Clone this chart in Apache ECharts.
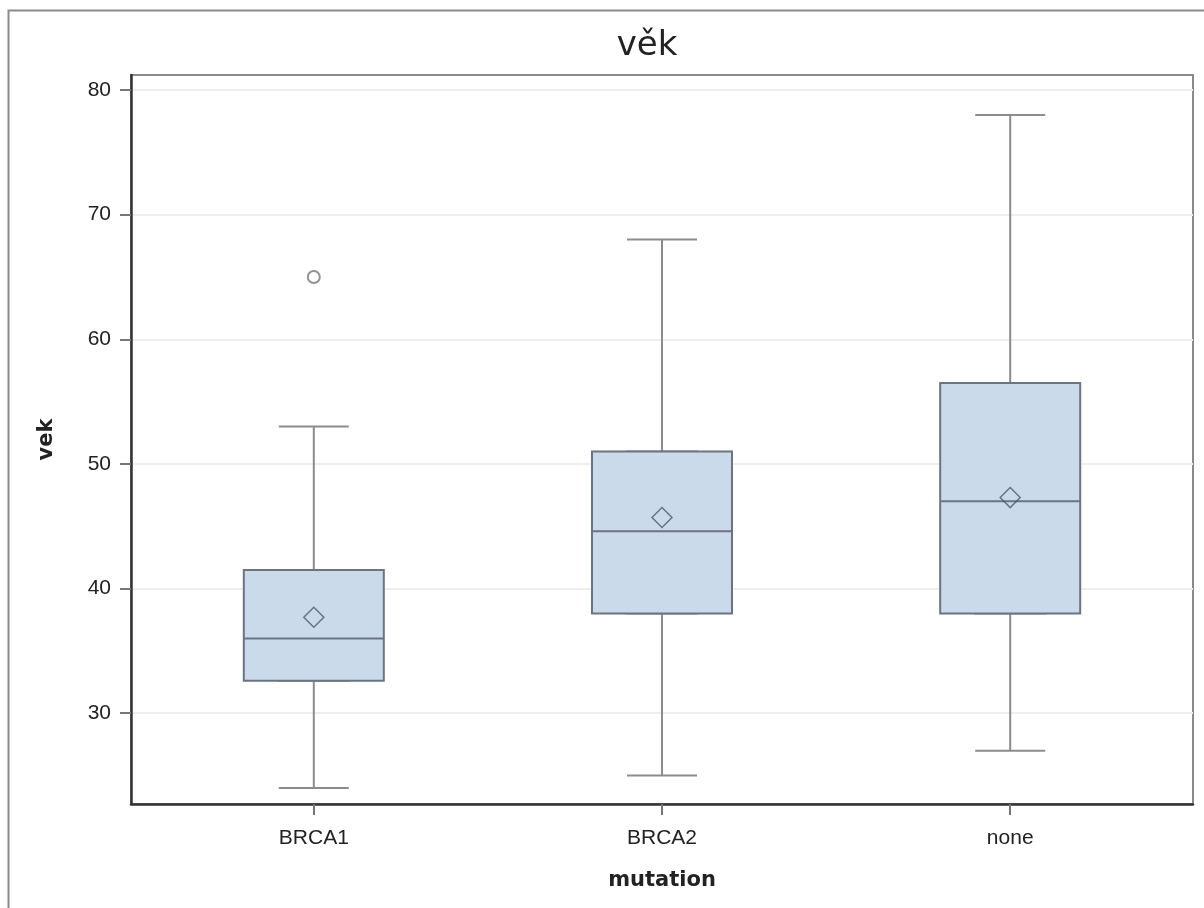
<!DOCTYPE html>
<html>
<head>
<meta charset="utf-8">
<title>věk</title>
<script src="https://cdn.jsdelivr.net/npm/echarts@6/dist/echarts.min.js"></script>
<style>
  html, body { margin: 0; padding: 0; background: #fff; }
  #chart { width: 1204px; height: 908px; }
</style>
</head>
<body>
<div id="chart"></div>
<script>
// Age distribution (věk) by mutation group
const categories = ['BRCA1', 'BRCA2', 'none'];
const whiskerLow = [24, 25, 27];
const quartile1 = [32.6, 38, 38];
const median = [36, 44.6, 47];
const quartile3 = [41.5, 51, 56.5];
const whiskerHigh = [53, 68, 78];
const means = [37.7, 45.7, 47.3];
const outliers = [[0, 65]];          // [group index, age]
const yTickValues = [30, 40, 50, 60, 70, 80];
const groupTicks = [0, 1, 2];

const chart = echarts.init(document.getElementById('chart'), null, { renderer: 'canvas' });

const tickFont = 'Liberation Sans, Arial, sans-serif';
const nameFont = 'DejaVu Sans, Verdana, sans-serif';

// whiskers (narrow caps) and boxes (wide) are separate series on twin x axes
const whiskerData = categories.map((c, i) =>
  [i, whiskerLow[i], quartile1[i], median[i], quartile3[i], whiskerHigh[i]]);
const boxData = categories.map((c, i) =>
  [i, quartile1[i], quartile1[i], median[i], quartile3[i], quartile3[i]]);
const meanData = categories.map((c, i) => [i, means[i]]);

const xMin = -0.525, xMax = 2.525;

const option = {
  animation: false,
  backgroundColor: '#ffffff',
  graphic: [
    {
      type: 'rect', silent: true, z: -10,
      shape: { x: 8.5, y: 10.5, width: 1400, height: 1100 },
      style: { fill: 'none', stroke: '#8a8a8a', lineWidth: 2 }
    },
    {
      type: 'text', silent: true,
      x: 647, y: 46,
      style: {
        text: 'věk', align: 'center', verticalAlign: 'middle',
        font: '34px ' + nameFont, fill: '#222'
      }
    }
  ],
  grid: {
    left: 131, top: 75, right: 11, bottom: 104,
    show: true, borderColor: '#8a8a8a', borderWidth: 2, backgroundColor: '#ffffff'
  },
  xAxis: [
    {
      type: 'value', min: xMin, max: xMax,
      name: 'mutation', nameLocation: 'middle', nameGap: 66,
      nameTextStyle: { fontFamily: nameFont, fontWeight: 'bold', fontSize: 21, color: '#222' },
      axisLine: { show: true, onZero: false, lineStyle: { color: '#333', width: 2.5 } },
      axisTick: { show: true, customValues: groupTicks, length: 11, lineStyle: { color: '#777', width: 2 } },
      axisLabel: {
        customValues: groupTicks, margin: 24,
        formatter: v => categories[Math.round(v)],
        fontFamily: tickFont, fontSize: 21, color: '#222'
      },
      splitLine: { show: false }
    },
    { type: 'value', min: xMin, max: xMax, show: false }
  ],
  yAxis: {
    type: 'value', min: 22.72, max: 81.2,
    name: 'vek', nameLocation: 'middle', nameGap: 74, nameRotate: 90,
    nameTextStyle: { fontFamily: nameFont, fontWeight: 'bold', fontSize: 21, color: '#222' },
    axisLine: { show: true, onZero: false, lineStyle: { color: '#333', width: 2.5 } },
    axisTick: { show: true, customValues: yTickValues, length: 11, lineStyle: { color: '#777', width: 2 } },
    axisLabel: {
      customValues: yTickValues, margin: 20,
      fontFamily: tickFont, fontSize: 21, color: '#222'
    },
    splitLine: { show: true, lineStyle: { color: '#eeeeee', width: 2 } }
  },
  series: [
    {
      name: 'whiskers', type: 'boxplot', xAxisIndex: 0,
      boxWidth: [70, 70], silent: true,
      itemStyle: { color: 'rgba(0,0,0,0)', borderColor: '#8c8c8c', borderWidth: 2 },
      emphasis: { disabled: true },
      data: whiskerData
    },
    {
      name: 'box', type: 'boxplot', xAxisIndex: 1,
      boxWidth: [140, 140], silent: true,
      itemStyle: { color: '#cbdaea', borderColor: '#6a7482', borderWidth: 2 },
      emphasis: { disabled: true },
      data: boxData
    },
    {
      name: 'mean', type: 'scatter', xAxisIndex: 1, z: 5,
      symbol: 'diamond', symbolSize: 20, silent: true,
      itemStyle: { color: 'rgba(0,0,0,0)', borderColor: '#505a68', borderWidth: 1.5 },
      data: meanData
    },
    {
      name: 'outlier', type: 'scatter', xAxisIndex: 1, z: 5,
      symbol: 'circle', symbolSize: 12, silent: true,
      itemStyle: { color: 'rgba(0,0,0,0)', borderColor: '#777777', borderWidth: 2 },
      data: outliers
    }
  ]
};

chart.setOption(option);
</script>
</body>
</html>
